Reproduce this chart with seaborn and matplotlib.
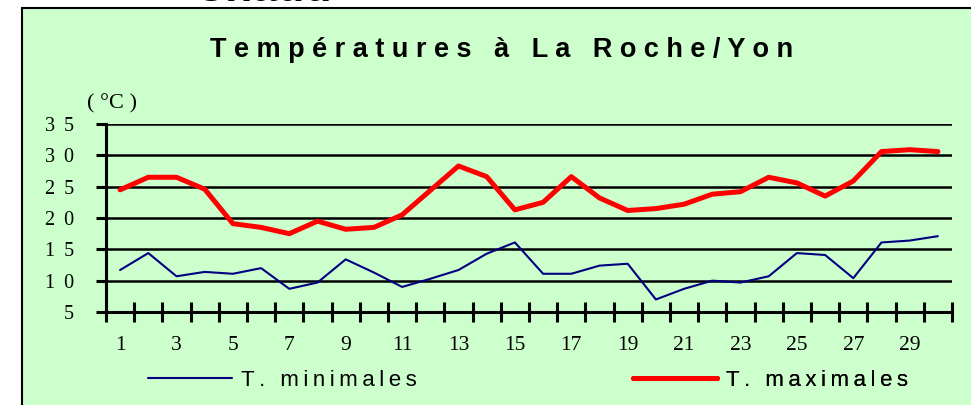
import matplotlib.pyplot as plt
import numpy as np
import pandas as pd
import seaborn as sns
from matplotlib.patches import Rectangle

# Données (°C)
days = list(range(1, 31))
t_min = [11.7, 14.4, 10.7, 11.4, 11.1, 12.0, 8.7, 9.7, 13.4, 11.3,
         9.0, 10.3, 11.7, 14.3, 16.1, 11.1, 11.1, 12.4, 12.7, 7.0,
         8.7, 10.0, 9.7, 10.7, 14.4, 14.1, 10.4, 16.1, 16.4, 17.1]
t_max = [24.5, 26.5, 26.5, 24.6, 19.1, 18.5, 17.5, 19.5, 18.2, 18.5,
         20.5, 24.4, 28.3, 26.6, 21.3, 22.5, 26.6, 23.2, 21.2, 21.5,
         22.2, 23.8, 24.2, 26.5, 25.6, 23.5, 25.9, 30.6, 30.9, 30.6]
series = ["T. minimales", "T. maximales"]
y_ticks = [5, 10, 15, 20, 25, 30, 35]
x_labels = list(range(1, 30, 2))

GREEN = "#CCFFCC"


def spaced(text, sep):
    # imitation de l'espacement des lettres d'Excel
    return sep.join(text)


df = pd.DataFrame({
    "jour": days * 2,
    "temp": t_min + t_max,
    "serie": [series[0]] * len(days) + [series[1]] * len(days),
})

sns.set_style("white")
plt.rcParams["font.family"] = ["Liberation Sans", "DejaVu Sans"]
for key in ["text.color", "axes.labelcolor", "xtick.color", "ytick.color"]:
    plt.rcParams[key] = "black"

fig = plt.figure(figsize=(9.71, 4.05), dpi=100, facecolor="white")
fig.patches.append(Rectangle((22 / 971, -0.02), 1.0, 1 - 8 / 405 + 0.02,
                             transform=fig.transFigure, facecolor=GREEN,
                             edgecolor="black", linewidth=1.5, zorder=-10))
fig.text(193 / 971, 1 - 1 / 405, "Chaud", fontsize=32, fontweight="bold",
         ha="left", va="baseline", color="black", zorder=-20)

ax = fig.add_axes([106 / 971, 1 - 312 / 405, 846 / 971, 188 / 405])
ax.set_facecolor(GREEN)

sns.lineplot(data=df, x="jour", y="temp", hue="serie", size="serie",
             palette={series[0]: "#000080", series[1]: "#FF0000"},
             sizes={series[0]: 1.5, series[1]: 3.6},
             legend=False, ax=ax, zorder=3)

ax.set_xlim(0.5, 30.5)
ax.set_ylim(5, 35)
ax.set_xlabel("")
ax.set_ylabel("")
ax.set_axisbelow(True)

ax.set_xticks(np.arange(0.5, 31, 1))
ax.set_xticklabels([])
ax.set_xticks(x_labels, [str(d) for d in x_labels], minor=True,
              fontfamily="Liberation Serif", fontsize=15.5)
ax.set_yticks(y_ticks, [spaced(str(v), " \u2009") for v in y_ticks],
              fontfamily=["Liberation Serif", "DejaVu Serif"], fontsize=14.5)

ax.tick_params(axis="x", which="major", direction="inout", length=14,
               width=2.2, color="black", bottom=True)
ax.tick_params(axis="x", which="minor", length=0, pad=17, bottom=True)
ax.tick_params(axis="y", direction="out", length=7.2, width=2.2,
               color="black", pad=16, left=True)
ax.yaxis.grid(True, color="black", linewidth=1.8)
ax.xaxis.grid(False)

for side in ["top", "right"]:
    ax.spines[side].set_visible(False)
for side in ["left", "bottom"]:
    ax.spines[side].set_linewidth(2.2)
    ax.spines[side].set_color("black")

ax.text(0.007, 1.106, "( °C )", transform=ax.transAxes, ha="center",
        va="center", fontfamily="Liberation Serif", fontsize=16)

fig.text(0.517, 1 - 50 / 405, spaced("Températures à La Roche/Yon", " "),
         ha="center", va="center", fontsize=19.5, fontweight="bold")

# légende : deux blocs séparés
handles = ax.lines[:2]
anchors = [148 / 971, 633 / 971]
for handle, name, x0 in zip(handles, series, anchors):
    leg = ax.legend([handle], [spaced(name, "\u2009")], loc="center left",
                    bbox_to_anchor=(x0, 1 - 380 / 405),
                    bbox_transform=fig.transFigure, frameon=False,
                    borderpad=0, borderaxespad=0, handlelength=3.8,
                    handletextpad=0.4, fontsize=16)
    ax.add_artist(leg)

plt.savefig("out.png", format="png", dpi=100)
